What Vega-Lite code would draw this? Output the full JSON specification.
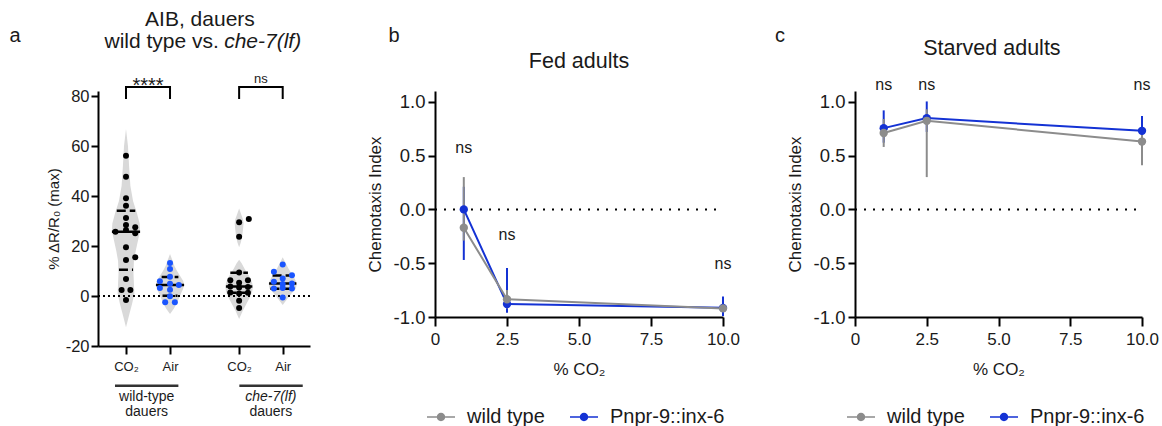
{
"$schema": "https://vega.github.io/schema/vega-lite/v6.json",
"background": "white",
"padding": {"left": 9, "top": 8, "right": 5, "bottom": 4},
"config": {
  "font": "Liberation Sans",
  "view": {"stroke": null},
  "axis": {"grid": false, "domainColor": "#000", "domainWidth": 2, "tickColor": "#000", "tickWidth": 2, "tickSize": 7, "labelColor": "#1a1a1a", "titleColor": "#1a1a1a", "labelFont": "Liberation Sans", "titleFont": "Liberation Sans", "titleFontWeight": "normal", "labelFontSize": 16, "titleFontSize": 17, "labelFlush": false, "labelOverlap": false},
  "text": {"font": "Liberation Sans", "color": "#1a1a1a"},
  "legend": {"labelFont": "Liberation Sans", "labelColor": "#1a1a1a"}
},
"spacing": 55,
"hconcat": [
 {
  "width": 212, "height": 255,
  "encoding": {
    "x": {"field": "x", "type": "quantitative", "scale": {"domain": [0.364, 5.18], "nice": false, "zero": false},
          "axis": {"values": [1, 2, 3.57, 4.56], "labelExpr": "(datum.value == 1 || datum.value == 3.57) ? 'CO₂' : 'Air'", "title": null, "labelFontSize": 13, "tickSize": 8, "labelPadding": 6, "labelFlush": false, "labelOverlap": false}},
    "y": {"field": "y", "type": "quantitative", "scale": {"domain": [-20, 82], "nice": false, "zero": false},
          "axis": {"values": [-20, 0, 20, 40, 60, 80], "labelExpr": "replace(datum.label, '−', '-')", "title": "% ΔR/R₀ (max)", "titleFontSize": 15, "labelFontSize": 16.5, "titleFontWeight": "normal", "labelOverlap": false}}
  },
  "layer": [
   {"data": {"values": [
     {"g":"wtCO2","y":66.8,"x":1,"x2":1},{"g":"wtCO2","y":60,"x":0.955,"x2":1.045},{"g":"wtCO2","y":52,"x":0.93,"x2":1.07},{"g":"wtCO2","y":44,"x":0.9,"x2":1.1},{"g":"wtCO2","y":38,"x":0.84,"x2":1.16},{"g":"wtCO2","y":33,"x":0.75,"x2":1.25},{"g":"wtCO2","y":29,"x":0.69,"x2":1.31},{"g":"wtCO2","y":26,"x":0.68,"x2":1.32},{"g":"wtCO2","y":22,"x":0.73,"x2":1.27},{"g":"wtCO2","y":18,"x":0.78,"x2":1.22},{"g":"wtCO2","y":14,"x":0.82,"x2":1.18},{"g":"wtCO2","y":9,"x":0.83,"x2":1.17},{"g":"wtCO2","y":5,"x":0.82,"x2":1.18},{"g":"wtCO2","y":1,"x":0.81,"x2":1.19},{"g":"wtCO2","y":-3,"x":0.86,"x2":1.14},{"g":"wtCO2","y":-7,"x":0.92,"x2":1.08},{"g":"wtCO2","y":-12.5,"x":1,"x2":1},
     {"g":"wtAir","y":16.8,"x":2,"x2":2},{"g":"wtAir","y":14,"x":1.94,"x2":2.06},{"g":"wtAir","y":12,"x":1.9,"x2":2.1},{"g":"wtAir","y":10,"x":1.84,"x2":2.16},{"g":"wtAir","y":8,"x":1.77,"x2":2.23},{"g":"wtAir","y":6,"x":1.7,"x2":2.3},{"g":"wtAir","y":4.5,"x":1.68,"x2":2.32},{"g":"wtAir","y":3,"x":1.7,"x2":2.3},{"g":"wtAir","y":1,"x":1.75,"x2":2.25},{"g":"wtAir","y":-1,"x":1.8,"x2":2.2},{"g":"wtAir","y":-3,"x":1.85,"x2":2.15},{"g":"wtAir","y":-5,"x":1.91,"x2":2.09},{"g":"wtAir","y":-7.2,"x":2,"x2":2},
     {"g":"cheCO2","y":35,"x":3.57,"x2":3.57},{"g":"cheCO2","y":33,"x":3.53,"x2":3.61},{"g":"cheCO2","y":30.5,"x":3.48,"x2":3.66},{"g":"cheCO2","y":29,"x":3.47,"x2":3.67},{"g":"cheCO2","y":27,"x":3.48,"x2":3.66},{"g":"cheCO2","y":24,"x":3.5,"x2":3.64},{"g":"cheCO2","y":21.5,"x":3.53,"x2":3.61},{"g":"cheCO2","y":19.5,"x":3.57,"x2":3.57},{"g":"cheCO2","y":17,"x":3.57,"x2":3.57},{"g":"cheCO2","y":14.5,"x":3.57,"x2":3.57},{"g":"cheCO2","y":13,"x":3.51,"x2":3.63},{"g":"cheCO2","y":11,"x":3.45,"x2":3.69},{"g":"cheCO2","y":9,"x":3.38,"x2":3.76},{"g":"cheCO2","y":7,"x":3.31,"x2":3.83},{"g":"cheCO2","y":5,"x":3.27,"x2":3.87},{"g":"cheCO2","y":3.5,"x":3.26,"x2":3.88},{"g":"cheCO2","y":2,"x":3.27,"x2":3.87},{"g":"cheCO2","y":0,"x":3.31,"x2":3.83},{"g":"cheCO2","y":-2,"x":3.37,"x2":3.77},{"g":"cheCO2","y":-4,"x":3.43,"x2":3.71},{"g":"cheCO2","y":-6,"x":3.49,"x2":3.65},{"g":"cheCO2","y":-9.2,"x":3.57,"x2":3.57},
     {"g":"cheAir","y":15.5,"x":4.56,"x2":4.56},{"g":"cheAir","y":13,"x":4.49,"x2":4.63},{"g":"cheAir","y":11,"x":4.43,"x2":4.69},{"g":"cheAir","y":9,"x":4.36,"x2":4.76},{"g":"cheAir","y":7,"x":4.29,"x2":4.83},{"g":"cheAir","y":5,"x":4.24,"x2":4.88},{"g":"cheAir","y":3,"x":4.26,"x2":4.86},{"g":"cheAir","y":1,"x":4.36,"x2":4.76},{"g":"cheAir","y":-1,"x":4.45,"x2":4.67},{"g":"cheAir","y":-3.6,"x":4.56,"x2":4.56}
    ]},
    "mark": {"type": "area", "orient": "horizontal", "color": "#d9d9d9", "opacity": 1},
    "encoding": {"x2": {"field": "x2"}, "detail": {"field": "g"}}},
   {"data": {"values": [{"x": 0.364, "x2": 5.18, "y": 0}]},
    "mark": {"type": "rule", "color": "#000", "strokeWidth": 2, "strokeDash": [2, 3]},
    "encoding": {"x2": {"field": "x2"}}},
   {"data": {"values": [
     {"g":"wtCO2","y":34.1,"x":0.79,"x2":1.21},{"g":"wtCO2","y":10.5,"x":0.84,"x2":1.16},
     {"g":"wtAir","y":7.6,"x":1.81,"x2":2.19},{"g":"wtAir","y":0.1,"x":1.83,"x2":2.17},
     {"g":"cheCO2","y":9.3,"x":3.37,"x2":3.77},{"g":"cheCO2","y":1.3,"x":3.31,"x2":3.83},
     {"g":"cheAir","y":8.2,"x":4.33,"x2":4.79},{"g":"cheAir","y":2.9,"x":4.28,"x2":4.84}
    ]},
    "mark": {"type": "rule", "color": "#000", "strokeWidth": 2.5, "strokeDash": [9, 4]},
    "encoding": {"x2": {"field": "x2"}}},
   {"data": {"values": [
     {"g":"wtCO2","y":25.7,"x":0.68,"x2":1.32},{"g":"wtAir","y":4.4,"x":1.68,"x2":2.32},
     {"g":"cheCO2","y":3.8,"x":3.27,"x2":3.87},{"g":"cheAir","y":5.0,"x":4.25,"x2":4.87}
    ]},
    "mark": {"type": "rule", "color": "#000", "strokeWidth": 2.5},
    "encoding": {"x2": {"field": "x2"}}},
   {"data": {"values": [
     {"x":1,"y":56.1},{"x":1,"y":47.7},{"x":1,"y":39.1},{"x":1,"y":36.1},{"x":1,"y":31.2},{"x":1,"y":28.4},{"x":1.21,"y":27.5},{"x":1,"y":26.4},{"x":0.76,"y":25.7},{"x":1.21,"y":25.1},{"x":1,"y":19.5},{"x":1.21,"y":15.5},{"x":1,"y":14.4},{"x":1,"y":6.8},{"x":0.9,"y":2.4},{"x":1.1,"y":2.4},{"x":1,"y":-1.6},
     {"x":3.57,"y":29.5},{"x":3.79,"y":30.8},{"x":3.57,"y":23.7},{"x":3.57,"y":9.4},{"x":3.37,"y":6.3},{"x":3.77,"y":6.3},{"x":3.57,"y":5.3},{"x":3.37,"y":3.8},{"x":3.57,"y":3.4},{"x":3.77,"y":3.6},{"x":3.37,"y":1.4},{"x":3.57,"y":1.0},{"x":3.77,"y":1.3},{"x":3.57,"y":-1.9},{"x":3.57,"y":-4.8}
    ]},
    "mark": {"type": "circle", "color": "#000", "size": 36, "opacity": 1}},
   {"data": {"values": [
     {"x":2,"y":13.2},{"x":2,"y":10.8},{"x":2,"y":7.7},{"x":1.77,"y":5.9},{"x":2,"y":4.9},{"x":2.2,"y":4.4},{"x":1.77,"y":3.2},{"x":2,"y":2.5},{"x":2,"y":-0.1},{"x":1.89,"y":-2.5},{"x":2.11,"y":-2.5},
     {"x":4.56,"y":12.6},{"x":4.36,"y":9.7},{"x":4.77,"y":8.3},{"x":4.56,"y":7.0},{"x":4.36,"y":5.7},{"x":4.77,"y":5.0},{"x":4.56,"y":4.8},{"x":4.36,"y":3.0},{"x":4.56,"y":3.2},{"x":4.77,"y":3.0},{"x":4.56,"y":-0.6}
    ]},
    "mark": {"type": "circle", "color": "#1a55ff", "size": 36, "opacity": 1}},
   {"data": {"values": [
     {"b":"wt","i":0,"x":1,"y":78.8},{"b":"wt","i":1,"x":1,"y":83.6},{"b":"wt","i":2,"x":2,"y":83.6},{"b":"wt","i":3,"x":2,"y":78.8},
     {"b":"che","i":0,"x":3.57,"y":78.8},{"b":"che","i":1,"x":3.57,"y":83.6},{"b":"che","i":2,"x":4.56,"y":83.6},{"b":"che","i":3,"x":4.56,"y":78.8}
    ]},
    "mark": {"type": "line", "color": "#000", "strokeWidth": 2},
    "encoding": {"order": {"field": "i"}, "detail": {"field": "b"}}},
   {"data": {"values": [{"x": 1.5, "y": 81.6, "t": "****"}]},
    "mark": {"type": "text", "fontSize": 20, "baseline": "alphabetic"},
    "encoding": {"text": {"field": "t"}}},
   {"data": {"values": [{"x": 4.065, "y": 85.2, "t": "ns"}]},
    "mark": {"type": "text", "fontSize": 13, "baseline": "alphabetic"},
    "encoding": {"text": {"field": "t"}}},
   {"data": {"values": [{"x": 0.75, "x2": 2.19, "y": -35.9}, {"x": 3.575, "x2": 5.015, "y": -35.9}]},
    "mark": {"type": "rule", "color": "#333", "strokeWidth": 2.5},
    "encoding": {"x2": {"field": "x2"}}},
   {"data": {"values": [{"x": 1.47, "y": -40.5, "t": "wild-type"}, {"x": 1.47, "y": -46.5, "t": "dauers"}, {"x": 4.29, "y": -46.5, "t": "dauers"}]},
    "mark": {"type": "text", "fontSize": 14, "baseline": "middle"},
    "encoding": {"text": {"field": "t"}}},
   {"data": {"values": [{"x": 4.29, "y": -40.5, "t": "che-7(lf)"}]},
    "mark": {"type": "text", "fontSize": 14, "baseline": "middle", "fontStyle": "italic"},
    "encoding": {"text": {"field": "t"}}},
   {"data": {"values": [{"x": 2.68, "y": 110.4, "t": "AIB, dauers"}]},
    "mark": {"type": "text", "fontSize": 21, "baseline": "middle"},
    "encoding": {"text": {"field": "t"}}},
   {"data": {"values": [{"x": 3.11, "y": 101.6, "t": "wild type vs."}]},
    "mark": {"type": "text", "fontSize": 21, "baseline": "middle", "align": "right"},
    "encoding": {"text": {"field": "t"}}},
   {"data": {"values": [{"x": 3.23, "y": 101.6, "t": "che-7(lf)"}]},
    "mark": {"type": "text", "fontSize": 21, "baseline": "middle", "align": "left", "fontStyle": "italic"},
    "encoding": {"text": {"field": "t"}}},
   {"data": {"values": [{"x": -1.52, "y": 104, "t": "a"}]},
    "mark": {"type": "text", "fontSize": 20, "baseline": "middle"},
    "encoding": {"text": {"field": "t"}}}
  ]
 },
 {
  "spacing": 35,
  "resolve": {"scale": {"color": "independent"}, "legend": {"color": "independent"}},
  "hconcat": [
   {
    "width": 288, "height": 226,
    "encoding": {
      "x": {"field": "x", "type": "quantitative", "scale": {"domain": [0, 10], "nice": false, "zero": false},
            "axis": {"values": [0, 2.5, 5, 7.5, 10], "labelExpr": "datum.value == 0 ? '0' : format(datum.value, '.1f')", "title": "% CO₂", "tickSize": 9, "labelPadding": 5, "titlePadding": 14, "labelFontSize": 17, "titleFontSize": 17, "titleFontWeight": "normal", "labelFlush": false, "labelOverlap": false}},
      "y": {"field": "y", "type": "quantitative", "scale": {"domain": [-1, 1.1], "nice": false, "zero": false},
            "axis": {"values": [-1, -0.5, 0, 0.5, 1], "labelExpr": "replace(format(datum.value, '.1f'), '−', '-')", "title": "Chemotaxis Index", "tickSize": 7, "labelPadding": 3, "titlePadding": 9, "labelFontSize": 18.5, "titleFontSize": 17, "titleFontWeight": "normal", "labelOverlap": false}}
    },
    "layer": [
     {"data": {"values": [{"x": 0, "x2": 10, "y": 0}]},
      "mark": {"type": "rule", "color": "#000", "strokeWidth": 2, "strokeDash": [2, 7]},
      "encoding": {"x2": {"field": "x2"}}},
     {"data": {"values": [
       {"strain":"Pnpr-9::inx-6","x":1,"y":-0.47,"y2":0.21},{"strain":"Pnpr-9::inx-6","x":2.5,"y":-0.96,"y2":-0.545},{"strain":"Pnpr-9::inx-6","x":10,"y":-0.99,"y2":-0.81},
       {"strain":"wild type","x":1,"y":-0.29,"y2":0.3},{"strain":"wild type","x":2.5,"y":-0.92,"y2":-0.75},{"strain":"wild type","x":10,"y":-0.95,"y2":-0.89}
      ]},
      "mark": {"type": "rule", "strokeWidth": 2},
      "encoding": {"y2": {"field": "y2"}, "color": {"field": "strain", "type": "nominal", "scale": {"domain": ["wild type", "Pnpr-9::inx-6"], "range": ["#8c8c8c", "#1432d4"]},
          "legend": {"orient": "none", "legendX": -8, "legendY": 312, "direction": "horizontal", "title": null, "labelFontSize": 20, "symbolType": "M-1,-0.045H1V0.045H-1Z M0.3,0A0.3,0.3,0,1,1,-0.3,0A0.3,0.3,0,1,1,0.3,0Z", "symbolSize": 784, "symbolStrokeWidth": 0, "labelOffset": 12, "columnPadding": 25}}}},
     {"data": {"values": [
       {"strain":"Pnpr-9::inx-6","x":1,"y":0.0},{"strain":"Pnpr-9::inx-6","x":2.5,"y":-0.88},{"strain":"Pnpr-9::inx-6","x":10,"y":-0.915},
       {"strain":"wild type","x":1,"y":-0.17},{"strain":"wild type","x":2.5,"y":-0.835},{"strain":"wild type","x":10,"y":-0.92}
      ]},
      "encoding": {"color": {"field": "strain", "type": "nominal", "scale": {"domain": ["wild type", "Pnpr-9::inx-6"], "range": ["#8c8c8c", "#1432d4"]},
          "legend": {"orient": "none", "legendX": -8, "legendY": 312, "direction": "horizontal", "title": null, "labelFontSize": 20, "symbolType": "M-1,-0.045H1V0.045H-1Z M0.3,0A0.3,0.3,0,1,1,-0.3,0A0.3,0.3,0,1,1,0.3,0Z", "symbolSize": 784, "symbolStrokeWidth": 0, "labelOffset": 12, "columnPadding": 25}}},
      "layer": [
       {"mark": {"type": "line", "strokeWidth": 2}},
       {"mark": {"type": "point", "filled": true, "size": 70, "opacity": 1}}
      ]},
     {"data": {"values": [{"x": 1, "y": 0.57, "t": "ns"}, {"x": 2.5, "y": -0.235, "t": "ns"}, {"x": 10, "y": -0.51, "t": "ns"}]},
      "mark": {"type": "text", "fontSize": 16, "baseline": "middle"},
      "encoding": {"text": {"field": "t"}}},
     {"data": {"values": [{"x": -1.42, "y": 1.614, "t": "b"}]},
      "mark": {"type": "text", "fontSize": 20, "baseline": "middle"},
      "encoding": {"text": {"field": "t"}}},
     {"data": {"values": [{"x": 5, "y": 1.372, "t": "Fed adults"}]},
      "mark": {"type": "text", "fontSize": 21.5, "baseline": "middle"},
      "encoding": {"text": {"field": "t"}}}
    ]
   },
   {
    "width": 287, "height": 226,
    "encoding": {
      "x": {"field": "x", "type": "quantitative", "scale": {"domain": [0, 10], "nice": false, "zero": false},
            "axis": {"values": [0, 2.5, 5, 7.5, 10], "labelExpr": "datum.value == 0 ? '0' : format(datum.value, '.1f')", "title": "% CO₂", "tickSize": 9, "labelPadding": 5, "titlePadding": 14, "labelFontSize": 17, "titleFontSize": 17, "titleFontWeight": "normal", "labelFlush": false, "labelOverlap": false}},
      "y": {"field": "y", "type": "quantitative", "scale": {"domain": [-1, 1.1], "nice": false, "zero": false},
            "axis": {"values": [-1, -0.5, 0, 0.5, 1], "labelExpr": "replace(format(datum.value, '.1f'), '−', '-')", "title": "Chemotaxis Index", "tickSize": 7, "labelPadding": 3, "titlePadding": 9, "labelFontSize": 18.5, "titleFontSize": 17, "titleFontWeight": "normal", "labelOverlap": false}}
    },
    "layer": [
     {"data": {"values": [{"x": 0, "x2": 10, "y": 0}]},
      "mark": {"type": "rule", "color": "#000", "strokeWidth": 2, "strokeDash": [2, 7]},
      "encoding": {"x2": {"field": "x2"}}},
     {"data": {"values": [
       {"strain":"Pnpr-9::inx-6","x":1,"y":0.62,"y2":0.92},{"strain":"Pnpr-9::inx-6","x":2.5,"y":0.72,"y2":1.003},{"strain":"Pnpr-9::inx-6","x":10,"y":0.6,"y2":0.867},
       {"strain":"wild type","x":1,"y":0.58,"y2":0.84},{"strain":"wild type","x":2.5,"y":0.3,"y2":0.93},{"strain":"wild type","x":10,"y":0.41,"y2":0.74}
      ]},
      "mark": {"type": "rule", "strokeWidth": 2},
      "encoding": {"y2": {"field": "y2"}, "color": {"field": "strain", "type": "nominal", "scale": {"domain": ["wild type", "Pnpr-9::inx-6"], "range": ["#8c8c8c", "#1432d4"]},
          "legend": {"orient": "none", "legendX": -8, "legendY": 312, "direction": "horizontal", "title": null, "labelFontSize": 20, "symbolType": "M-1,-0.045H1V0.045H-1Z M0.3,0A0.3,0.3,0,1,1,-0.3,0A0.3,0.3,0,1,1,0.3,0Z", "symbolSize": 784, "symbolStrokeWidth": 0, "labelOffset": 12, "columnPadding": 25}}}},
     {"data": {"values": [
       {"strain":"Pnpr-9::inx-6","x":1,"y":0.755},{"strain":"Pnpr-9::inx-6","x":2.5,"y":0.848},{"strain":"Pnpr-9::inx-6","x":10,"y":0.73},
       {"strain":"wild type","x":1,"y":0.71},{"strain":"wild type","x":2.5,"y":0.823},{"strain":"wild type","x":10,"y":0.63}
      ]},
      "encoding": {"color": {"field": "strain", "type": "nominal", "scale": {"domain": ["wild type", "Pnpr-9::inx-6"], "range": ["#8c8c8c", "#1432d4"]},
          "legend": {"orient": "none", "legendX": -8, "legendY": 312, "direction": "horizontal", "title": null, "labelFontSize": 20, "symbolType": "M-1,-0.045H1V0.045H-1Z M0.3,0A0.3,0.3,0,1,1,-0.3,0A0.3,0.3,0,1,1,0.3,0Z", "symbolSize": 784, "symbolStrokeWidth": 0, "labelOffset": 12, "columnPadding": 25}}},
      "layer": [
       {"mark": {"type": "line", "strokeWidth": 2}},
       {"mark": {"type": "point", "filled": true, "size": 70, "opacity": 1}}
      ]},
     {"data": {"values": [{"x": 1, "y": 1.16, "t": "ns"}, {"x": 2.5, "y": 1.16, "t": "ns"}, {"x": 10, "y": 1.16, "t": "ns"}]},
      "mark": {"type": "text", "fontSize": 16, "baseline": "middle"},
      "encoding": {"text": {"field": "t"}}},
     {"data": {"values": [{"x": -2.61, "y": 1.614, "t": "c"}]},
      "mark": {"type": "text", "fontSize": 20, "baseline": "middle"},
      "encoding": {"text": {"field": "t"}}},
     {"data": {"values": [{"x": 4.77, "y": 1.493, "t": "Starved adults"}]},
      "mark": {"type": "text", "fontSize": 21.5, "baseline": "middle"},
      "encoding": {"text": {"field": "t"}}}
    ]
   }
  ]
 }
]
}
